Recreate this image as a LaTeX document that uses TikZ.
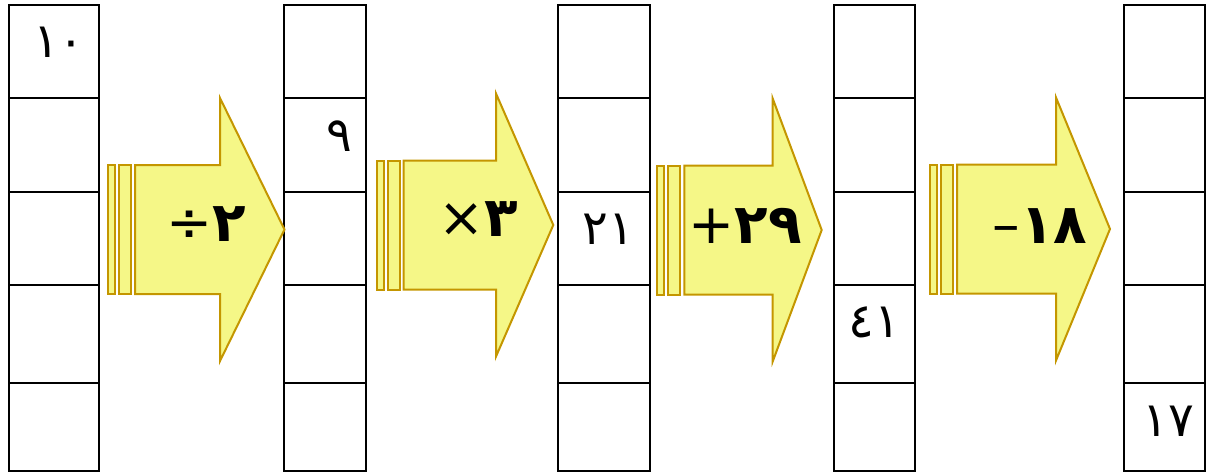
\documentclass[tikz,border=0pt]{standalone}
\usepackage{fontspec}
\newfontfamily\arabicfont[Script=Arabic]{DejaVu Sans}
\newfontfamily\opfont{DejaVu Sans}
\definecolor{arrowfill}{RGB}{245,247,135}
\definecolor{arrowline}{RGB}{196,150,0}
\tikzset{
  gridline/.style={line width=2pt},
  blockarrow/.style={draw=arrowline,fill=arrowfill,line width=2pt},
  cellnum/.style={inner sep=0pt,font=\arabicfont\fontsize{48}{56}\selectfont},
  oplabel/.style={inner sep=0pt,font=\fontsize{55}{66}\selectfont}
}
\begin{document}
\begin{tikzpicture}[x=1pt,y=-1pt]
\useasboundingbox (0,0) rectangle (1208,474);
% the five columns of cells
\foreach \l/\r in {9/99,284/366,558/650,834/915,1124/1205} {
  \draw[gridline] (\l,5) rectangle (\r,471);
  \foreach \y in {98,191.5,285,383}
    \draw[gridline] (\l,\y) -- (\r,\y);
}
% the four block arrows
\foreach \a/\h/\t/\m in {108/220/284.5/229.5,376.7/496/553.3/225,657.3/772.7/821.7/230,930/1056/1110/229} {
  \draw[blockarrow] (\a,\m-64.5) rectangle (\a+7,\m+64.5);
  \draw[blockarrow] (\a+11,\m-64.5) rectangle (\a+23,\m+64.5);
  \draw[blockarrow] (\a+27,\m-64.5) -- (\h,\m-64.5) -- (\h,\m-131.5) -- (\t,\m)
    -- (\h,\m+131.5) -- (\h,\m+64.5) -- (\a+27,\m+64.5) -- cycle;
}
% numbers in the cells
\node[cellnum] (n10) at (59,42) {١٠};
\node[cellnum] (n9) at (339,136) {٩};
\node[cellnum] (n21) at (608,229) {٢١};
\node[cellnum] (n41) at (874,322) {٤١};
\node[cellnum] (n17) at (1168,421) {١٧};
% operations on the arrows
\node[oplabel] (div) at (206,224) {\opfont ÷\arabicfont\bfseries ٢};
\node[oplabel] (mul) at (478,219) {\opfont ×\arabicfont\bfseries ٣};
\node[oplabel] (add) at (745,226) {\opfont +\arabicfont\bfseries ٢٩};
\node[oplabel] (sub) at (1040,226) {\opfont –\arabicfont\bfseries ١٨};
\end{tikzpicture}
\end{document}
